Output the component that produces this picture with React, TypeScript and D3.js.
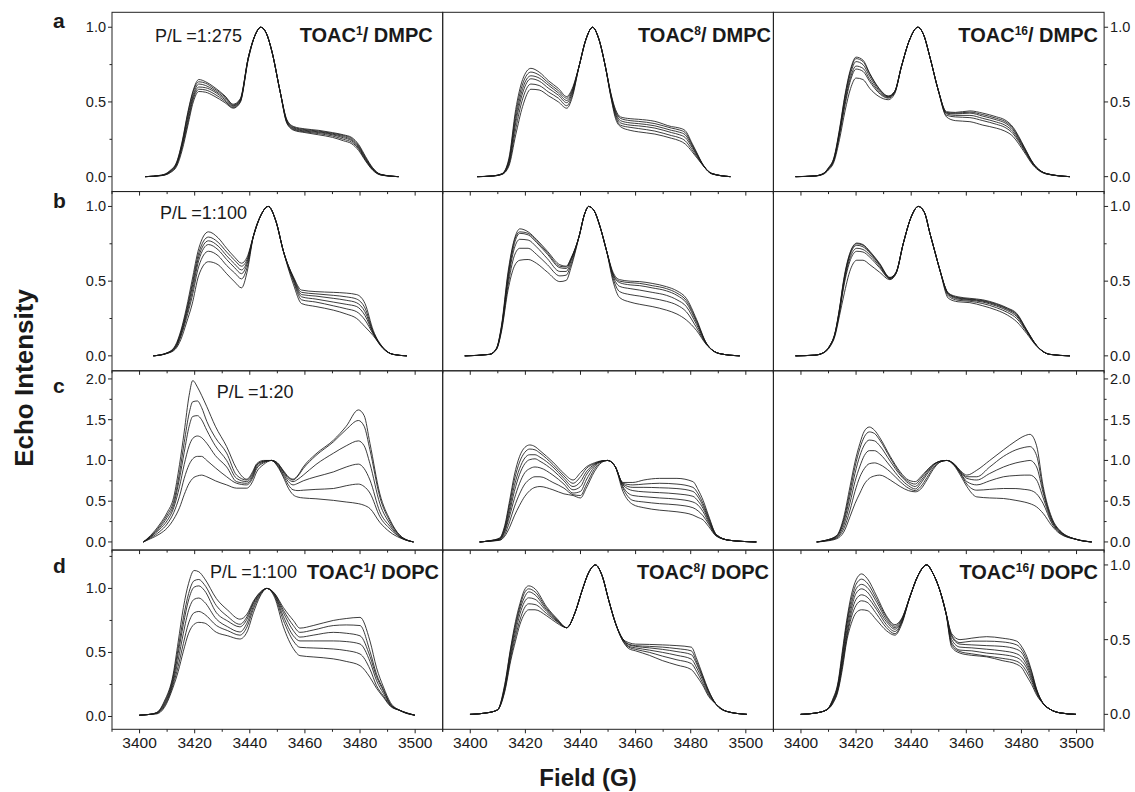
import React from "react";
import * as d3 from "d3";

const fieldMajor = [3400, 3420, 3440, 3460, 3480, 3500];
const fieldMinor = [3390, 3410, 3430, 3450, 3470, 3490, 3510];
const rowLetters = ["a", "b", "c", "d"];
const ratioLabels = ["P/L =1:275", "P/L =1:100", "P/L =1:20", "P/L =1:100"];
const probeLabels = ["1", "8", "16"];
const lipidLabels = ["DMPC", "DOPC"];

// each row: [field (G), echo intensity of trace 1, trace 2, ...]
const spectrumA1 = [
  [3402, 0, 0, 0, 0, 0, 0],
  [3408, 0.01, 0.01, 0.009, 0.008, 0.008, 0.007],
  [3411, 0.04, 0.037, 0.034, 0.031, 0.028, 0.025],
  [3413.5, 0.1, 0.095, 0.09, 0.085, 0.08, 0.07],
  [3415.5, 0.24, 0.23, 0.22, 0.21, 0.2, 0.18],
  [3417.5, 0.43, 0.42, 0.4, 0.38, 0.36, 0.34],
  [3419.5, 0.58, 0.57, 0.55, 0.535, 0.52, 0.5],
  [3421.5, 0.65, 0.635, 0.62, 0.6, 0.585, 0.57],
  [3424, 0.635, 0.625, 0.61, 0.595, 0.58, 0.565],
  [3427, 0.6, 0.59, 0.58, 0.57, 0.555, 0.54],
  [3431, 0.54, 0.535, 0.525, 0.515, 0.505, 0.495],
  [3434, 0.485, 0.48, 0.475, 0.47, 0.463, 0.458],
  [3436.5, 0.52, 0.515, 0.51, 0.505, 0.5, 0.495],
  [3439.5, 0.8, 0.8, 0.8, 0.8, 0.79, 0.79],
  [3442, 0.95, 0.95, 0.95, 0.95, 0.95, 0.95],
  [3444, 1, 1, 1, 1, 1, 1],
  [3446, 0.96, 0.96, 0.96, 0.96, 0.96, 0.96],
  [3448, 0.84, 0.84, 0.84, 0.84, 0.84, 0.84],
  [3451, 0.57, 0.57, 0.57, 0.57, 0.57, 0.57],
  [3453.5, 0.38, 0.375, 0.37, 0.365, 0.36, 0.355],
  [3456, 0.335, 0.33, 0.325, 0.32, 0.315, 0.31],
  [3460, 0.32, 0.315, 0.31, 0.305, 0.3, 0.295],
  [3465, 0.31, 0.305, 0.3, 0.295, 0.288, 0.28],
  [3470, 0.295, 0.29, 0.285, 0.28, 0.272, 0.263],
  [3474, 0.28, 0.275, 0.268, 0.26, 0.25, 0.24],
  [3477, 0.262, 0.255, 0.247, 0.24, 0.23, 0.22],
  [3479.5, 0.215, 0.207, 0.2, 0.193, 0.185, 0.175],
  [3482, 0.135, 0.128, 0.122, 0.116, 0.11, 0.105],
  [3484.5, 0.062, 0.058, 0.055, 0.052, 0.048, 0.045],
  [3487.5, 0.016, 0.015, 0.014, 0.013, 0.012, 0.011],
  [3494, 0, 0, 0, 0, 0, 0],
];

const spectrumA2 = [
  [3402.5, 0, 0, 0, 0, 0, 0],
  [3408, 0.005, 0.005, 0.005, 0.004, 0.004, 0.004],
  [3411.5, 0.02, 0.019, 0.018, 0.017, 0.016, 0.015],
  [3414, 0.12, 0.11, 0.1, 0.09, 0.08, 0.07],
  [3416.5, 0.45, 0.42, 0.39, 0.36, 0.32, 0.28],
  [3419, 0.65, 0.62, 0.59, 0.56, 0.52, 0.47],
  [3422, 0.725, 0.7, 0.675, 0.655, 0.62, 0.585],
  [3425, 0.7, 0.68, 0.66, 0.64, 0.61, 0.58],
  [3428.5, 0.64, 0.625, 0.61, 0.59, 0.565, 0.54],
  [3432, 0.59, 0.575, 0.56, 0.545, 0.525, 0.5],
  [3435, 0.536, 0.525, 0.51, 0.495, 0.475, 0.458],
  [3437, 0.59, 0.58, 0.57, 0.56, 0.545, 0.53],
  [3439.5, 0.74, 0.74, 0.74, 0.74, 0.74, 0.74],
  [3442, 0.92, 0.92, 0.92, 0.92, 0.92, 0.92],
  [3444.4, 1, 1, 1, 1, 1, 1],
  [3446.5, 0.93, 0.93, 0.93, 0.93, 0.93, 0.93],
  [3449, 0.74, 0.74, 0.74, 0.74, 0.74, 0.74],
  [3451, 0.56, 0.555, 0.55, 0.545, 0.54, 0.535],
  [3452.7, 0.45, 0.44, 0.43, 0.42, 0.405, 0.39],
  [3454.5, 0.4, 0.39, 0.375, 0.36, 0.345, 0.335],
  [3458, 0.388, 0.375, 0.36, 0.345, 0.33, 0.31],
  [3461, 0.384, 0.37, 0.355, 0.34, 0.322, 0.3],
  [3467, 0.37, 0.355, 0.34, 0.325, 0.305, 0.285],
  [3473, 0.335, 0.325, 0.31, 0.295, 0.275, 0.257],
  [3476, 0.325, 0.312, 0.297, 0.28, 0.26, 0.24],
  [3478, 0.308, 0.295, 0.28, 0.262, 0.24, 0.219],
  [3480.5, 0.223, 0.215, 0.205, 0.195, 0.18, 0.167],
  [3482.5, 0.15, 0.145, 0.14, 0.135, 0.127, 0.12],
  [3484, 0.095, 0.093, 0.091, 0.089, 0.087, 0.085],
  [3487.7, 0.022, 0.021, 0.02, 0.02, 0.019, 0.018],
  [3494.4, 0, 0, 0, 0, 0, 0],
];

const spectrumA3 = [
  [3398, 0, 0, 0, 0, 0, 0],
  [3405, 0.005, 0.005, 0.005, 0.005, 0.004, 0.004],
  [3408, 0.02, 0.02, 0.019, 0.018, 0.017, 0.015],
  [3410, 0.06, 0.058, 0.055, 0.052, 0.05, 0.045],
  [3412, 0.13, 0.125, 0.12, 0.115, 0.11, 0.1],
  [3414, 0.32, 0.31, 0.3, 0.29, 0.28, 0.25],
  [3416, 0.55, 0.54, 0.52, 0.5, 0.48, 0.44],
  [3418, 0.72, 0.71, 0.69, 0.665, 0.645, 0.59],
  [3420, 0.8, 0.79, 0.77, 0.74, 0.72, 0.66],
  [3422.5, 0.78, 0.77, 0.75, 0.725, 0.705, 0.65],
  [3425, 0.69, 0.685, 0.67, 0.65, 0.635, 0.59],
  [3428, 0.6, 0.595, 0.585, 0.575, 0.565, 0.54],
  [3431.7, 0.54, 0.538, 0.535, 0.53, 0.525, 0.515],
  [3434, 0.57, 0.57, 0.568, 0.565, 0.562, 0.555],
  [3436.5, 0.74, 0.74, 0.74, 0.74, 0.74, 0.74],
  [3439.5, 0.92, 0.92, 0.92, 0.92, 0.92, 0.92],
  [3442.4, 1, 1, 1, 1, 1, 1],
  [3444.5, 0.95, 0.95, 0.95, 0.95, 0.95, 0.95],
  [3446.8, 0.8, 0.8, 0.8, 0.8, 0.8, 0.8],
  [3449.8, 0.58, 0.58, 0.58, 0.58, 0.58, 0.58],
  [3452.8, 0.435, 0.43, 0.425, 0.42, 0.41, 0.4],
  [3456, 0.43, 0.425, 0.42, 0.41, 0.4, 0.375],
  [3461.3, 0.44, 0.432, 0.425, 0.41, 0.395, 0.368],
  [3466, 0.425, 0.415, 0.405, 0.39, 0.375, 0.345],
  [3471, 0.4, 0.39, 0.38, 0.365, 0.35, 0.324],
  [3474, 0.38, 0.37, 0.36, 0.345, 0.33, 0.305],
  [3477, 0.33, 0.322, 0.313, 0.3, 0.287, 0.268],
  [3479, 0.27, 0.262, 0.255, 0.245, 0.235, 0.22],
  [3481, 0.2, 0.195, 0.19, 0.183, 0.176, 0.165],
  [3484.3, 0.09, 0.088, 0.086, 0.083, 0.08, 0.075],
  [3489.2, 0.02, 0.02, 0.02, 0.019, 0.018, 0.017],
  [3497.6, 0, 0, 0, 0, 0, 0],
];

const spectrumB1 = [
  [3405, 0, 0, 0, 0, 0, 0],
  [3410, 0.02, 0.02, 0.019, 0.018, 0.017, 0.016],
  [3413, 0.07, 0.065, 0.06, 0.055, 0.05, 0.045],
  [3415, 0.17, 0.16, 0.15, 0.14, 0.13, 0.11],
  [3417, 0.32, 0.3, 0.285, 0.27, 0.25, 0.22],
  [3419, 0.5, 0.47, 0.45, 0.42, 0.39, 0.34],
  [3421.5, 0.72, 0.69, 0.665, 0.64, 0.6, 0.54],
  [3425, 0.83, 0.795, 0.77, 0.745, 0.7, 0.63],
  [3428.5, 0.79, 0.76, 0.735, 0.71, 0.67, 0.61],
  [3431.6, 0.72, 0.695, 0.67, 0.645, 0.605, 0.55],
  [3434.5, 0.66, 0.64, 0.615, 0.59, 0.555, 0.495],
  [3437, 0.62, 0.6, 0.575, 0.55, 0.515, 0.455],
  [3439, 0.66, 0.645, 0.63, 0.615, 0.59, 0.56],
  [3441.3, 0.8, 0.8, 0.8, 0.8, 0.8, 0.8],
  [3444, 0.94, 0.94, 0.94, 0.94, 0.94, 0.94],
  [3446.7, 1, 1, 1, 1, 1, 1],
  [3449.5, 0.9, 0.9, 0.9, 0.9, 0.9, 0.9],
  [3452.2, 0.7, 0.7, 0.7, 0.7, 0.7, 0.7],
  [3455.8, 0.53, 0.525, 0.52, 0.51, 0.5, 0.48],
  [3458.8, 0.44, 0.425, 0.41, 0.395, 0.375, 0.35],
  [3464, 0.43, 0.415, 0.4, 0.38, 0.36, 0.33],
  [3470.3, 0.425, 0.405, 0.385, 0.36, 0.335, 0.306],
  [3475, 0.42, 0.395, 0.372, 0.345, 0.315, 0.28],
  [3478.8, 0.41, 0.38, 0.355, 0.33, 0.295, 0.25],
  [3481.8, 0.35, 0.32, 0.295, 0.27, 0.24, 0.195],
  [3484.8, 0.17, 0.16, 0.155, 0.15, 0.145, 0.135],
  [3488.4, 0.055, 0.053, 0.052, 0.05, 0.05, 0.048],
  [3492, 0.01, 0.01, 0.01, 0.01, 0.01, 0.01],
  [3497, 0, 0, 0, 0, 0, 0],
];

const spectrumB2 = [
  [3398, 0, 0, 0, 0, 0, 0],
  [3407, 0.01, 0.01, 0.01, 0.01, 0.01, 0.01],
  [3409.5, 0.05, 0.05, 0.048, 0.046, 0.044, 0.042],
  [3411.3, 0.2, 0.19, 0.185, 0.18, 0.17, 0.16],
  [3413.7, 0.56, 0.54, 0.52, 0.5, 0.47, 0.44],
  [3416, 0.78, 0.77, 0.75, 0.72, 0.67, 0.6],
  [3418, 0.85, 0.83, 0.82, 0.78, 0.72, 0.64],
  [3421, 0.83, 0.82, 0.81, 0.775, 0.72, 0.645],
  [3424, 0.78, 0.77, 0.76, 0.73, 0.68, 0.62],
  [3428, 0.7, 0.69, 0.68, 0.65, 0.61, 0.56],
  [3432.5, 0.61, 0.6, 0.59, 0.565, 0.535, 0.497],
  [3434.8, 0.6, 0.595, 0.585, 0.565, 0.54, 0.505],
  [3436.7, 0.66, 0.655, 0.65, 0.64, 0.62, 0.6],
  [3439.5, 0.8, 0.8, 0.8, 0.8, 0.8, 0.8],
  [3441.5, 0.95, 0.95, 0.95, 0.95, 0.95, 0.95],
  [3443, 1, 1, 1, 1, 1, 1],
  [3445, 0.97, 0.97, 0.97, 0.97, 0.97, 0.97],
  [3447, 0.87, 0.87, 0.87, 0.87, 0.87, 0.87],
  [3449.5, 0.7, 0.7, 0.7, 0.7, 0.7, 0.7],
  [3451.8, 0.56, 0.55, 0.545, 0.535, 0.52, 0.5],
  [3454.2, 0.51, 0.5, 0.49, 0.465, 0.43, 0.39],
  [3458, 0.5, 0.49, 0.475, 0.45, 0.41, 0.36],
  [3461.5, 0.497, 0.485, 0.47, 0.44, 0.4, 0.345],
  [3466, 0.485, 0.47, 0.455, 0.425, 0.385, 0.33],
  [3471.2, 0.463, 0.45, 0.435, 0.405, 0.365, 0.306],
  [3475, 0.435, 0.42, 0.405, 0.375, 0.34, 0.28],
  [3478.4, 0.385, 0.37, 0.355, 0.33, 0.295, 0.24],
  [3482.1, 0.245, 0.235, 0.225, 0.21, 0.19, 0.17],
  [3485.7, 0.085, 0.083, 0.082, 0.08, 0.078, 0.075],
  [3490.5, 0.015, 0.015, 0.015, 0.015, 0.015, 0.015],
  [3497.8, 0, 0, 0, 0, 0, 0],
];

const spectrumB3 = [
  [3398, 0, 0, 0, 0, 0, 0],
  [3405, 0.005, 0.005, 0.005, 0.005, 0.005, 0.004],
  [3408, 0.02, 0.02, 0.02, 0.019, 0.019, 0.018],
  [3410.5, 0.07, 0.069, 0.068, 0.066, 0.064, 0.06],
  [3412.3, 0.15, 0.148, 0.146, 0.143, 0.14, 0.13],
  [3414, 0.32, 0.315, 0.31, 0.3, 0.29, 0.27],
  [3415.5, 0.51, 0.5, 0.49, 0.475, 0.46, 0.4],
  [3418, 0.7, 0.695, 0.685, 0.665, 0.645, 0.58],
  [3420.3, 0.755, 0.75, 0.74, 0.72, 0.7, 0.64],
  [3422.5, 0.745, 0.74, 0.73, 0.712, 0.695, 0.64],
  [3425, 0.7, 0.695, 0.688, 0.675, 0.66, 0.61],
  [3428.5, 0.62, 0.615, 0.61, 0.6, 0.59, 0.56],
  [3432.3, 0.525, 0.523, 0.52, 0.518, 0.515, 0.51],
  [3434.5, 0.56, 0.558, 0.556, 0.554, 0.552, 0.55],
  [3437.1, 0.75, 0.75, 0.75, 0.75, 0.75, 0.75],
  [3440, 0.93, 0.93, 0.93, 0.93, 0.93, 0.93],
  [3442.6, 1, 1, 1, 1, 1, 1],
  [3444.8, 0.96, 0.96, 0.96, 0.96, 0.96, 0.96],
  [3446.8, 0.82, 0.82, 0.82, 0.82, 0.82, 0.82],
  [3448.7, 0.69, 0.69, 0.69, 0.69, 0.69, 0.69],
  [3450.4, 0.575, 0.575, 0.575, 0.575, 0.575, 0.575],
  [3453.5, 0.42, 0.418, 0.415, 0.41, 0.4, 0.385],
  [3457, 0.395, 0.39, 0.386, 0.38, 0.372, 0.362],
  [3461.3, 0.385, 0.38, 0.377, 0.372, 0.365, 0.356],
  [3466, 0.375, 0.37, 0.366, 0.36, 0.35, 0.335],
  [3471, 0.35, 0.345, 0.34, 0.333, 0.322, 0.306],
  [3475, 0.32, 0.315, 0.31, 0.302, 0.29, 0.272],
  [3478.3, 0.284, 0.278, 0.272, 0.263, 0.25, 0.228],
  [3481.9, 0.175, 0.172, 0.17, 0.165, 0.16, 0.15],
  [3485.5, 0.07, 0.07, 0.069, 0.068, 0.067, 0.065],
  [3490.3, 0.01, 0.01, 0.01, 0.01, 0.01, 0.01],
  [3497.6, 0, 0, 0, 0, 0, 0],
];

const spectrumC1 = [
  [3401.4, 0, 0, 0, 0, 0, 0],
  [3404, 0.08, 0.07, 0.065, 0.06, 0.05, 0.04],
  [3407.4, 0.22, 0.2, 0.18, 0.16, 0.13, 0.1],
  [3410, 0.36, 0.33, 0.3, 0.26, 0.22, 0.17],
  [3412.4, 0.55, 0.5, 0.46, 0.42, 0.36, 0.28],
  [3414.5, 0.95, 0.85, 0.78, 0.68, 0.56, 0.42],
  [3416.2, 1.35, 1.22, 1.1, 0.95, 0.78, 0.58],
  [3418, 1.8, 1.58, 1.42, 1.18, 0.95, 0.72],
  [3419.3, 1.98, 1.72, 1.54, 1.27, 1.02, 0.78],
  [3421, 1.9, 1.73, 1.55, 1.3, 1.05, 0.81],
  [3422.5, 1.8, 1.65, 1.5, 1.28, 1.05, 0.82],
  [3424.4, 1.66, 1.48, 1.37, 1.21, 1.0, 0.8],
  [3427.5, 1.42, 1.28, 1.18, 1.06, 0.91, 0.75],
  [3431.6, 1.17, 1.09, 1.0, 0.92, 0.8, 0.7],
  [3435.2, 0.9, 0.82, 0.78, 0.74, 0.72, 0.66],
  [3438.9, 0.77, 0.76, 0.74, 0.72, 0.7, 0.66],
  [3441, 0.86, 0.84, 0.82, 0.8, 0.78, 0.74],
  [3442.5, 0.96, 0.95, 0.94, 0.92, 0.9, 0.86],
  [3445, 1.0, 0.99, 0.99, 0.98, 0.97, 0.95],
  [3447.9, 1, 1, 1, 1, 1, 1],
  [3450, 0.97, 0.97, 0.96, 0.95, 0.94, 0.93],
  [3452.1, 0.88, 0.87, 0.86, 0.84, 0.82, 0.8],
  [3454, 0.8, 0.79, 0.77, 0.74, 0.7, 0.66],
  [3455.7, 0.77, 0.76, 0.74, 0.7, 0.64, 0.58],
  [3457.5, 0.82, 0.81, 0.77, 0.72, 0.63, 0.55],
  [3459.4, 0.92, 0.9, 0.82, 0.75, 0.635, 0.54],
  [3464, 1.08, 1.06, 0.95, 0.8, 0.645, 0.53],
  [3470.4, 1.25, 1.23, 1.09, 0.86, 0.656, 0.51],
  [3475, 1.42, 1.38, 1.18, 0.92, 0.69, 0.49],
  [3479.4, 1.62, 1.49, 1.24, 0.955, 0.71, 0.47],
  [3481.5, 1.55, 1.42, 1.18, 0.9, 0.68, 0.45],
  [3483.6, 1.21, 1.13, 0.96, 0.76, 0.6, 0.41],
  [3487.2, 0.59, 0.55, 0.47, 0.37, 0.31, 0.24],
  [3490.9, 0.27, 0.25, 0.22, 0.19, 0.16, 0.12],
  [3494.5, 0.08, 0.08, 0.07, 0.06, 0.06, 0.05],
  [3499.4, 0, 0, 0, 0, 0, 0],
];

const spectrumC2 = [
  [3403.4, 0, 0, 0, 0, 0, 0, 0],
  [3407, 0.015, 0.014, 0.013, 0.012, 0.011, 0.01, 0.01],
  [3410.7, 0.05, 0.045, 0.04, 0.035, 0.03, 0.025, 0.02],
  [3412.5, 0.2, 0.18, 0.16, 0.14, 0.12, 0.09, 0.07],
  [3414.3, 0.51, 0.47, 0.42, 0.37, 0.32, 0.25, 0.18],
  [3416, 0.82, 0.76, 0.69, 0.62, 0.53, 0.43, 0.32],
  [3417.9, 1.05, 0.98, 0.9, 0.83, 0.72, 0.59, 0.45],
  [3419.8, 1.16, 1.1, 1.03, 0.96, 0.85, 0.71, 0.56],
  [3421.6, 1.19, 1.14, 1.07, 1.01, 0.9, 0.77, 0.63],
  [3423.5, 1.17, 1.13, 1.07, 1.02, 0.92, 0.8, 0.67],
  [3425.3, 1.12, 1.09, 1.04, 0.99, 0.91, 0.8, 0.68],
  [3430, 0.98, 0.95, 0.92, 0.88, 0.82, 0.73, 0.64],
  [3434, 0.84, 0.81, 0.78, 0.75, 0.71, 0.66, 0.59],
  [3437.3, 0.76, 0.72, 0.68, 0.64, 0.6, 0.58, 0.57],
  [3440, 0.85, 0.8, 0.74, 0.68, 0.62, 0.57, 0.54],
  [3442.1, 0.92, 0.9, 0.86, 0.82, 0.76, 0.7, 0.66],
  [3445, 0.97, 0.96, 0.95, 0.94, 0.92, 0.89, 0.86],
  [3447.5, 0.995, 0.99, 0.99, 0.99, 0.985, 0.98, 0.97],
  [3449.9, 1, 1, 1, 1, 1, 1, 1],
  [3452.5, 0.93, 0.93, 0.93, 0.93, 0.93, 0.93, 0.93],
  [3455.4, 0.73, 0.72, 0.71, 0.7, 0.68, 0.66, 0.62],
  [3459, 0.73, 0.7, 0.67, 0.63, 0.57, 0.51, 0.46],
  [3463, 0.76, 0.71, 0.67, 0.615, 0.555, 0.49, 0.42],
  [3468.7, 0.78, 0.72, 0.665, 0.605, 0.54, 0.47, 0.39],
  [3475, 0.78, 0.71, 0.655, 0.59, 0.525, 0.455, 0.37],
  [3480.8, 0.74, 0.67, 0.62, 0.56, 0.49, 0.42, 0.33],
  [3482.7, 0.64, 0.59, 0.55, 0.5, 0.45, 0.38, 0.3],
  [3484.5, 0.51, 0.47, 0.44, 0.41, 0.37, 0.32, 0.27],
  [3486.5, 0.32, 0.3, 0.28, 0.26, 0.24, 0.22, 0.19],
  [3489.3, 0.09, 0.09, 0.085, 0.08, 0.08, 0.075, 0.07],
  [3494.1, 0.02, 0.02, 0.02, 0.02, 0.02, 0.02, 0.02],
  [3503.8, 0, 0, 0, 0, 0, 0, 0],
];

const spectrumC3 = [
  [3405.7, 0, 0, 0, 0, 0, 0],
  [3409, 0.02, 0.02, 0.02, 0.015, 0.015, 0.01],
  [3413, 0.08, 0.075, 0.07, 0.06, 0.05, 0.04],
  [3415.5, 0.3, 0.27, 0.24, 0.2, 0.16, 0.12],
  [3417.8, 0.68, 0.62, 0.56, 0.48, 0.39, 0.31],
  [3419.6, 0.98, 0.92, 0.84, 0.74, 0.62, 0.47],
  [3421.4, 1.21, 1.15, 1.06, 0.93, 0.8, 0.6],
  [3423, 1.36, 1.29, 1.19, 1.06, 0.9, 0.71],
  [3424.8, 1.41, 1.35, 1.25, 1.12, 0.96, 0.78],
  [3426.7, 1.37, 1.33, 1.24, 1.12, 0.97, 0.81],
  [3428.6, 1.28, 1.25, 1.18, 1.08, 0.95, 0.82],
  [3432.4, 1.05, 1.03, 0.99, 0.93, 0.86, 0.76],
  [3436, 0.86, 0.84, 0.82, 0.78, 0.74, 0.68],
  [3439, 0.76, 0.74, 0.72, 0.69, 0.66, 0.63],
  [3441.5, 0.74, 0.71, 0.68, 0.65, 0.63, 0.615],
  [3443.5, 0.8, 0.78, 0.75, 0.72, 0.68, 0.65],
  [3445.7, 0.88, 0.87, 0.85, 0.83, 0.79, 0.76],
  [3448, 0.95, 0.95, 0.94, 0.93, 0.91, 0.89],
  [3450.5, 0.99, 0.99, 0.99, 0.99, 0.98, 0.98],
  [3453, 1, 1, 1, 1, 1, 1],
  [3455.5, 0.96, 0.96, 0.95, 0.95, 0.95, 0.94],
  [3458, 0.87, 0.86, 0.85, 0.84, 0.83, 0.81],
  [3460.2, 0.82, 0.8, 0.78, 0.74, 0.71, 0.68],
  [3463.8, 0.88, 0.8, 0.76, 0.7, 0.635, 0.553],
  [3468.5, 1.0, 0.92, 0.84, 0.75, 0.645, 0.54],
  [3473.5, 1.13, 1.05, 0.92, 0.8, 0.656, 0.533],
  [3478, 1.24, 1.13, 0.97, 0.815, 0.655, 0.51],
  [3481, 1.3, 1.16, 0.99, 0.82, 0.645, 0.49],
  [3483.1, 1.32, 1.17, 1.0, 0.82, 0.635, 0.47],
  [3485.5, 1.18, 1.06, 0.92, 0.76, 0.59, 0.43],
  [3487.9, 0.68, 0.64, 0.6, 0.54, 0.47, 0.35],
  [3491, 0.3, 0.28, 0.27, 0.25, 0.23, 0.2],
  [3494, 0.14, 0.13, 0.13, 0.12, 0.11, 0.1],
  [3500.1, 0.03, 0.03, 0.03, 0.03, 0.03, 0.03],
  [3505.5, 0, 0, 0, 0, 0, 0],
];

const spectrumD1 = [
  [3399.9, 0.01, 0.01, 0.01, 0.01, 0.01, 0.01],
  [3403, 0.015, 0.015, 0.015, 0.015, 0.015, 0.015],
  [3406.2, 0.03, 0.03, 0.03, 0.025, 0.025, 0.02],
  [3409, 0.12, 0.11, 0.1, 0.09, 0.08, 0.07],
  [3412.2, 0.33, 0.31, 0.29, 0.27, 0.25, 0.23],
  [3414, 0.58, 0.53, 0.49, 0.44, 0.39, 0.35],
  [3415.9, 0.85, 0.77, 0.72, 0.65, 0.57, 0.51],
  [3417.8, 1.04, 0.96, 0.91, 0.83, 0.73, 0.65],
  [3419.8, 1.14, 1.06, 1.01, 0.915, 0.81, 0.72],
  [3421.5, 1.13, 1.07, 1.02, 0.925, 0.82, 0.735],
  [3423.5, 1.08, 1.03, 0.985, 0.895, 0.8, 0.73],
  [3427.9, 0.92, 0.865, 0.81, 0.76, 0.71, 0.657],
  [3432, 0.83, 0.78, 0.745, 0.7, 0.67, 0.63],
  [3436.4, 0.76, 0.72, 0.7, 0.66, 0.635, 0.605],
  [3439, 0.8, 0.78, 0.76, 0.73, 0.7, 0.66],
  [3441.3, 0.9, 0.89, 0.88, 0.86, 0.84, 0.81],
  [3443.8, 0.97, 0.97, 0.96, 0.96, 0.95, 0.94],
  [3446.2, 1, 1, 1, 1, 1, 1],
  [3449, 0.96, 0.96, 0.95, 0.95, 0.94, 0.93],
  [3452.2, 0.85, 0.83, 0.81, 0.78, 0.75, 0.7],
  [3455.8, 0.75, 0.71, 0.67, 0.63, 0.59, 0.53],
  [3458.2, 0.69, 0.657, 0.62, 0.59, 0.54, 0.475],
  [3463, 0.71, 0.675, 0.635, 0.59, 0.535, 0.465],
  [3470.3, 0.75, 0.71, 0.657, 0.59, 0.527, 0.45],
  [3475, 0.765, 0.715, 0.65, 0.585, 0.515, 0.43],
  [3480, 0.774, 0.71, 0.63, 0.566, 0.488, 0.397],
  [3483.6, 0.59, 0.51, 0.47, 0.43, 0.37, 0.306],
  [3486, 0.38, 0.33, 0.31, 0.28, 0.24, 0.22],
  [3488.5, 0.23, 0.21, 0.2, 0.18, 0.16, 0.15],
  [3491, 0.11, 0.1, 0.095, 0.09, 0.085, 0.08],
  [3494.5, 0.047, 0.047, 0.047, 0.047, 0.047, 0.047],
  [3499.9, 0.01, 0.01, 0.01, 0.01, 0.01, 0.01],
];

const spectrumD2 = [
  [3399.9, 0, 0, 0, 0, 0, 0],
  [3406, 0.01, 0.01, 0.01, 0.01, 0.01, 0.01],
  [3409.9, 0.03, 0.03, 0.03, 0.03, 0.03, 0.03],
  [3412.5, 0.2, 0.19, 0.18, 0.17, 0.16, 0.15],
  [3414.7, 0.45, 0.44, 0.42, 0.4, 0.38, 0.36],
  [3416.4, 0.62, 0.6, 0.58, 0.55, 0.52, 0.49],
  [3418, 0.74, 0.72, 0.7, 0.67, 0.63, 0.6],
  [3419.6, 0.83, 0.81, 0.78, 0.75, 0.71, 0.67],
  [3421.2, 0.86, 0.84, 0.82, 0.78, 0.74, 0.7],
  [3423.5, 0.84, 0.82, 0.8, 0.77, 0.735, 0.7],
  [3427.7, 0.72, 0.71, 0.7, 0.69, 0.675, 0.66],
  [3431.5, 0.64, 0.635, 0.63, 0.625, 0.62, 0.61],
  [3435, 0.58, 0.58, 0.58, 0.58, 0.58, 0.58],
  [3438, 0.68, 0.68, 0.68, 0.68, 0.68, 0.68],
  [3440.6, 0.83, 0.83, 0.83, 0.83, 0.83, 0.83],
  [3443, 0.95, 0.95, 0.95, 0.95, 0.95, 0.95],
  [3445.4, 1, 1, 1, 1, 1, 1],
  [3447.8, 0.93, 0.93, 0.93, 0.93, 0.93, 0.93],
  [3450.3, 0.76, 0.76, 0.76, 0.76, 0.76, 0.76],
  [3452.7, 0.61, 0.61, 0.61, 0.61, 0.61, 0.61],
  [3455.1, 0.51, 0.51, 0.51, 0.51, 0.5, 0.5],
  [3457.5, 0.48, 0.47, 0.465, 0.455, 0.45, 0.44],
  [3460, 0.47, 0.46, 0.455, 0.445, 0.435, 0.425],
  [3465, 0.468, 0.455, 0.445, 0.43, 0.415, 0.395],
  [3469.7, 0.465, 0.45, 0.435, 0.415, 0.39, 0.36],
  [3475, 0.46, 0.44, 0.42, 0.395, 0.365, 0.33],
  [3480.2, 0.45, 0.425, 0.4, 0.37, 0.34, 0.3],
  [3482.2, 0.37, 0.35, 0.335, 0.31, 0.285, 0.255],
  [3484.2, 0.27, 0.26, 0.25, 0.235, 0.215, 0.2],
  [3486.5, 0.16, 0.155, 0.15, 0.14, 0.13, 0.12],
  [3489.1, 0.07, 0.07, 0.07, 0.07, 0.07, 0.07],
  [3493, 0.02, 0.02, 0.02, 0.02, 0.02, 0.02],
  [3500.4, 0, 0, 0, 0, 0, 0],
];

const spectrumD3 = [
  [3399.9, 0, 0, 0, 0, 0, 0, 0],
  [3405, 0.008, 0.008, 0.008, 0.008, 0.008, 0.008, 0.008],
  [3409.3, 0.03, 0.03, 0.03, 0.03, 0.03, 0.03, 0.03],
  [3411.5, 0.1, 0.095, 0.09, 0.085, 0.08, 0.075, 0.07],
  [3413.5, 0.22, 0.21, 0.2, 0.19, 0.18, 0.17, 0.16],
  [3415, 0.42, 0.4, 0.38, 0.36, 0.34, 0.32, 0.3],
  [3416.6, 0.63, 0.61, 0.59, 0.56, 0.53, 0.51, 0.49],
  [3418.3, 0.8, 0.77, 0.74, 0.71, 0.68, 0.65, 0.61],
  [3420, 0.9, 0.87, 0.84, 0.81, 0.77, 0.73, 0.68],
  [3422, 0.94, 0.905, 0.87, 0.84, 0.8, 0.76, 0.7],
  [3424, 0.91, 0.88, 0.85, 0.82, 0.785, 0.75, 0.695],
  [3427.5, 0.79, 0.77, 0.75, 0.72, 0.7, 0.67, 0.63],
  [3431, 0.66, 0.65, 0.635, 0.62, 0.6, 0.58, 0.56],
  [3434.1, 0.6, 0.59, 0.58, 0.57, 0.555, 0.54, 0.53],
  [3436.5, 0.64, 0.635, 0.63, 0.62, 0.615, 0.61, 0.6],
  [3439.6, 0.79, 0.79, 0.79, 0.79, 0.79, 0.79, 0.79],
  [3442.5, 0.93, 0.93, 0.93, 0.93, 0.93, 0.93, 0.93],
  [3445.6, 1, 1, 1, 1, 1, 1, 1],
  [3448, 0.94, 0.94, 0.94, 0.94, 0.94, 0.94, 0.94],
  [3450.4, 0.83, 0.83, 0.83, 0.83, 0.83, 0.83, 0.83],
  [3452.6, 0.68, 0.68, 0.68, 0.68, 0.68, 0.68, 0.68],
  [3454.7, 0.54, 0.53, 0.52, 0.5, 0.48, 0.465, 0.45],
  [3457.7, 0.5, 0.48, 0.47, 0.45, 0.43, 0.42, 0.41],
  [3462, 0.51, 0.49, 0.465, 0.445, 0.425, 0.405, 0.395],
  [3467.4, 0.52, 0.49, 0.46, 0.436, 0.41, 0.39, 0.385],
  [3473, 0.51, 0.485, 0.455, 0.425, 0.4, 0.375, 0.36],
  [3478.3, 0.49, 0.465, 0.435, 0.405, 0.38, 0.355, 0.335],
  [3480.2, 0.45, 0.43, 0.41, 0.38, 0.355, 0.33, 0.31],
  [3481.9, 0.39, 0.37, 0.35, 0.33, 0.31, 0.285, 0.257],
  [3483.7, 0.29, 0.28, 0.265, 0.25, 0.235, 0.22, 0.2],
  [3485.5, 0.17, 0.165, 0.16, 0.155, 0.15, 0.14, 0.13],
  [3488, 0.07, 0.07, 0.07, 0.07, 0.07, 0.07, 0.07],
  [3490.4, 0.034, 0.034, 0.034, 0.034, 0.034, 0.034, 0.034],
  [3494, 0.01, 0.01, 0.01, 0.01, 0.01, 0.01, 0.01],
  [3499.8, 0, 0, 0, 0, 0, 0, 0],
];

const spectra = [
  [spectrumA1, spectrumA2, spectrumA3],
  [spectrumB1, spectrumB2, spectrumB3],
  [spectrumC1, spectrumC2, spectrumC3],
  [spectrumD1, spectrumD2, spectrumD3],
];

const W = 1135;
const H = 792;
const colLeft = [112, 442.7, 773.4];
const panelW = 330.7;
const rowTop = [12.3, 191.5, 370.8, 550];
const panelH = 179.3;
const font = "'Liberation Sans', Arial, Helvetica, sans-serif";
const ink = "#1a1a1a";

function yDomainFor(row: number, col: number): [number, number] {
  if (row === 2) return [-0.1, 2.1];
  if (row === 3 && col === 0) return [-0.1, 1.3];
  return [-0.1, 1.1];
}

function yTicksFor(row: number, col: number) {
  if (row === 2) return { major: [0, 0.5, 1, 1.5, 2], minor: [0.25, 0.75, 1.25, 1.75] };
  if (row === 3 && col === 0) return { major: [0, 0.5, 1], minor: [0.25, 0.75, 1.25] };
  return { major: [0, 0.5, 1], minor: [0.25, 0.75] };
}

// title placements (right end x) for rows a and d
const titleRight = [
  [432.7, 771, 1098],
  null,
  null,
  [439, 769, 1098],
];
const ratioPos = [
  [155, 41.7],
  [160, 219],
  [216.7, 398],
  [210, 577.5],
];
const letterBaseline = [28, 208, 393, 573];

function Panel({ data, row, col }: { data: number[][]; row: number; col: number }) {
  const x0 = colLeft[col];
  const y0 = rowTop[row];
  const x = d3.scaleLinear().domain([3390, 3510]).range([x0, x0 + panelW]);
  const y = d3.scaleLinear().domain(yDomainFor(row, col)).range([y0 + panelH, y0]);
  const nTraces = data[0].length - 1;
  const line = d3
    .line<number[]>()
    .x((r) => x(r[0]))
    .curve(d3.curveMonotoneX);
  const bottom = y0 + panelH;
  const ticks = yTicksFor(row, col);
  const fmt = d3.format(".1f");

  return (
    <g>
      {d3.range(nTraces).map((k) => (
        <path
          key={k}
          d={line.y((r) => y(r[k + 1]))(data) || ""}
          fill="none"
          stroke={ink}
          strokeWidth={0.85}
        />
      ))}
      <rect x={x0} y={y0} width={panelW} height={panelH} fill="none" stroke="#222" strokeWidth={1} />
      {fieldMajor.map((t) => (
        <line key={"M" + t} x1={x(t)} x2={x(t)} y1={bottom} y2={bottom + 4} stroke="#222" />
      ))}
      {fieldMinor.map((t) => (
        <line key={"m" + t} x1={x(t)} x2={x(t)} y1={bottom} y2={bottom + 2.5} stroke="#222" />
      ))}
      {row === 3 &&
        fieldMajor.map((t) => (
          <text key={"L" + t} x={x(t)} y={748} textAnchor="middle" fontFamily={font} fontSize={15.5} fill={ink}>
            {t}
          </text>
        ))}
      {col !== 1 &&
        ticks.major.map((t) => {
          const edge = col === 0 ? x0 : x0 + panelW;
          const dir = col === 0 ? -1 : 1;
          return (
            <g key={"Y" + t}>
              <line x1={edge} x2={edge + dir * 4} y1={y(t)} y2={y(t)} stroke="#222" />
              <text
                x={col === 0 ? x0 - 6 : x0 + panelW + 6}
                y={y(t) + 5}
                textAnchor={col === 0 ? "end" : "start"}
                fontFamily={font}
                fontSize={14.5}
                fill={ink}
              >
                {fmt(t)}
              </text>
            </g>
          );
        })}
      {col !== 1 &&
        ticks.minor.map((t) => {
          const edge = col === 0 ? x0 : x0 + panelW;
          const dir = col === 0 ? -1 : 1;
          return <line key={"y" + t} x1={edge} x2={edge + dir * 2.5} y1={y(t)} y2={y(t)} stroke="#222" />;
        })}
    </g>
  );
}

export default function App() {
  return (
    <svg
      width={W}
      height={H}
      viewBox={`0 0 ${W} ${H}`}
      style={{ position: "absolute", left: 0, top: 0, background: "#fff" }}
    >
      <rect x={0} y={0} width={W} height={H} fill="#fff" />
      {spectra.map((rowData, row) =>
        rowData.map((data, col) => <Panel key={row + "-" + col} data={data} row={row} col={col} />)
      )}
      {rowLetters.map((l, i) => (
        <text key={l} x={53} y={letterBaseline[i]} fontFamily={font} fontWeight="bold" fontSize={21} fill={ink}>
          {l}
        </text>
      ))}
      {ratioLabels.map((l, i) => (
        <text key={i} x={ratioPos[i][0]} y={ratioPos[i][1]} fontFamily={font} fontSize={18} fill={ink}>
          {l}
        </text>
      ))}
      {titleRight.map((xs, row) =>
        xs
          ? xs.map((xr, col) => (
              <text
                key={row + "t" + col}
                x={xr}
                y={row === 0 ? 41.7 : 579}
                textAnchor="end"
                fontFamily={font}
                fontWeight="bold"
                fontSize={20}
                fill={ink}
              >
                TOAC
                <tspan dy={-7} fontSize={12}>
                  {probeLabels[col]}
                </tspan>
                <tspan dy={7}>/ {lipidLabels[row === 0 ? 0 : 1]}</tspan>
              </text>
            ))
          : null
      )}
      <text
        transform="translate(33,378) rotate(-90)"
        textAnchor="middle"
        fontFamily={font}
        fontWeight="bold"
        fontSize={26}
        fill={ink}
      >
        Echo Intensity
      </text>
      <text x={588} y={786} textAnchor="middle" fontFamily={font} fontWeight="bold" fontSize={24} fill={ink}>
        Field (G)
      </text>
    </svg>
  );
}
